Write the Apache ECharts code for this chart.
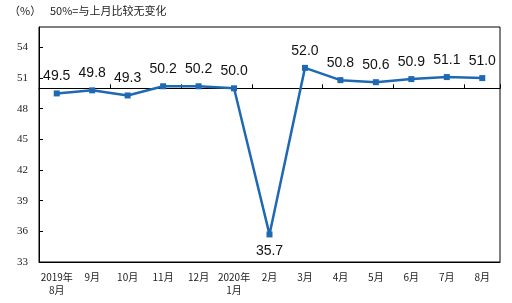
<!DOCTYPE html>
<html><head><meta charset="utf-8">
<script src="https://cdn.jsdelivr.net/npm/echarts@6/dist/echarts.min.js"></script>
<style>html,body{margin:0;padding:0;background:#fff}#c{width:512px;height:303px}</style>
</head><body><div id="c"></div>
<script>
const categories = ['2019年\n8月','9月','10月','11月','12月','2020年\n1月','2月','3月','4月','5月','6月','7月','8月'];
const values = [49.5, 49.8, 49.3, 50.2, 50.2, 50.0, 35.7, 52.0, 50.8, 50.6, 50.9, 51.1, 51.0];
const yTicks = [33, 36, 39, 42, 45, 48, 51, 54];
const unitText = '（%）';
const noteText = '50%=与上月比较无变化';
const baseline = 50;

const chart = echarts.init(document.getElementById('c'), null, {renderer: 'canvas'});
const seriesData = values.map(v => v < 40 ? {value: v, label: {position: 'bottom'}} : v);
function makeOption(offset) {
  return {
    animation: false,
    backgroundColor: '#fff',
    grid: {left: 39, top: 27, right: 12, bottom: 41, show: true, borderColor: '#000', borderWidth: 1, backgroundColor: 'transparent'},
    graphic: [
      {type: 'text', left: 9, top: 5, style: {text: unitText, font: '11px "Noto Sans CJK SC"', fill: '#222'}},
      {type: 'text', left: 50, top: 5, style: {text: noteText, font: '11px "Noto Sans CJK SC"', fill: '#222'}}
    ],
    xAxis: [
      {type: 'category', data: categories, boundaryGap: true,
       axisLine: {onZero: false, lineStyle: {color: '#000', width: 1}},
       axisTick: {show: false},
       axisLabel: {interval: 0, margin: 9, fontSize: 10, lineHeight: 13, color: '#222', fontFamily: '"Noto Sans CJK SC"'}},
      {type: 'category', data: categories, boundaryGap: true, position: 'bottom', offset: offset,
       axisLine: {onZero: false, lineStyle: {color: '#000', width: 1}},
       axisTick: {show: true, inside: true, length: 4, lineStyle: {color: '#000'}},
       axisLabel: {show: false}}
    ],
    yAxis: {type: 'value', min: yTicks[0], max: 56, interval: 3,
      axisLine: {show: true, lineStyle: {color: '#000', width: 1}},
      axisTick: {show: true, inside: true, length: 4, lineStyle: {color: '#000'}},
      splitLine: {show: false},
      axisLabel: {margin: 11, fontSize: 11, color: '#222', fontFamily: '"Liberation Serif"',
        showMaxLabel: false,
        formatter: v => yTicks.indexOf(v) >= 0 ? String(v) : ''}},
    series: [{
      type: 'line', xAxisIndex: 0, data: seriesData,
      symbol: 'rect', symbolSize: 6,
      lineStyle: {color: '#1F69B3', width: 2.5},
      itemStyle: {color: '#1F69B3'},
      label: {show: true, position: 'top', distance: 7, formatter: p => Number(p.value).toFixed(1),
        fontSize: 14, color: '#111', fontFamily: '"Liberation Sans"'}
    }]
  };
}
chart.setOption(makeOption(0));
const yBase = chart.convertToPixel({yAxisIndex: 0}, baseline);
const yBottom = chart.convertToPixel({yAxisIndex: 0}, yTicks[0]);
chart.setOption(makeOption(-(yBottom - yBase)));
</script></body></html>
